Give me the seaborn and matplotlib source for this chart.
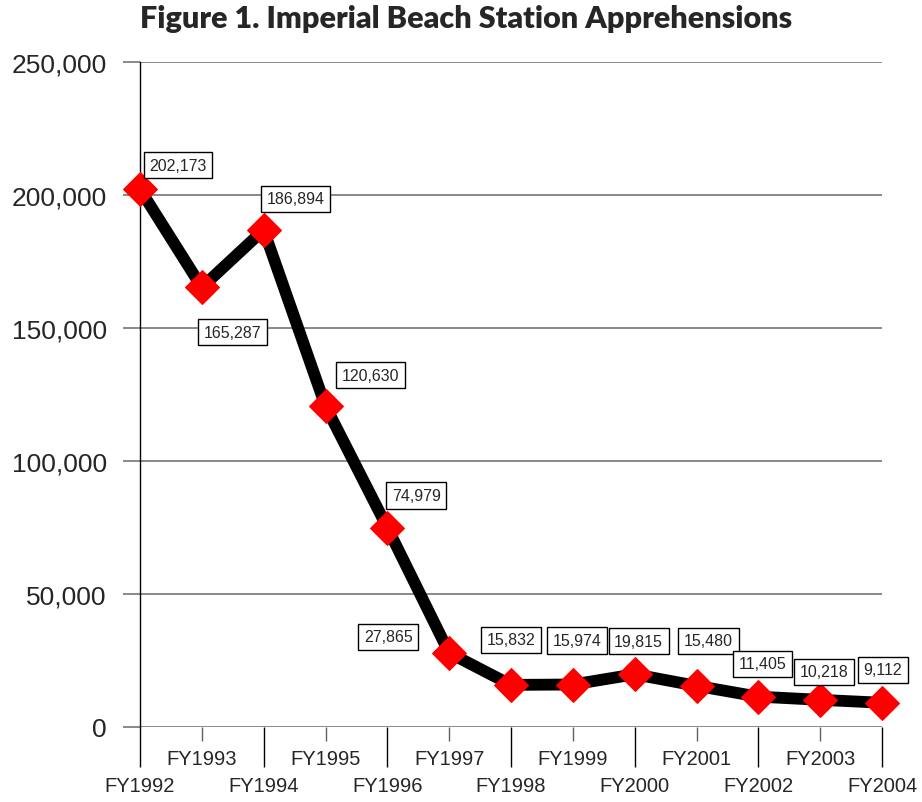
import numpy as np
import matplotlib
matplotlib.use("Agg")
import matplotlib.pyplot as plt
import seaborn as sns
import pandas as pd

years = ["FY1992", "FY1993", "FY1994", "FY1995", "FY1996", "FY1997", "FY1998",
         "FY1999", "FY2000", "FY2001", "FY2002", "FY2003", "FY2004"]
apprehensions = [202173, 165287, 186894, 120630, 74979, 27865, 15832,
                 15974, 19815, 15480, 11405, 10218, 9112]
# label box offsets from each point, in pixels (dx, dy up)
label_offsets = [(38, 24), (31, -45), (32, 31), (45, 31), (29, 32), (-61, 16), (0, 45),
                 (4, 44), (4, 33), (12, 45), (4, 33), (4, 28), (1, 33)]

df = pd.DataFrame({"pos": np.arange(len(years)), "year": years, "count": apprehensions})

sns.set_style("white")
plt.rcParams["font.family"] = ["Liberation Sans", "DejaVu Sans"]

fig = plt.figure(figsize=(9.22, 8.03), dpi=100)
ax = fig.add_axes([140 / 922, 1 - 728 / 803, 742 / 922, 665 / 803])

sns.lineplot(data=df, x="pos", y="count", ax=ax, color="black", linewidth=8.5,
             marker="D", markersize=17, markerfacecolor="red", markeredgecolor="red",
             clip_on=False, zorder=5)

ax.set_xlim(0, 12)
ax.set_ylim(0, 250000)
ax.set_yticks(range(0, 250001, 50000))
ax.yaxis.set_major_formatter(plt.FuncFormatter(lambda v, _: f"{int(v):,}"))
ax.grid(axis="y", color="#808080", linewidth=1.3)
ax.set_axisbelow(True)
ax.tick_params(axis="y", length=12, color="#808080", width=1.3, labelsize=19, pad=12, left=True)

even = list(range(0, 13, 2))
odd = list(range(1, 13, 2))
ax.set_xticks(even)
ax.set_xticklabels([years[i] for i in even])
ax.set_xticks(odd, minor=True)
ax.set_xticklabels([years[i] for i in odd], minor=True)
ax.tick_params(axis="x", which="major", length=29, width=1.0, color="black",
               labelsize=14.5, pad=6, bottom=True)
ax.tick_params(axis="x", which="minor", length=10, width=1.0, color="#606060",
               labelsize=14.5, pad=6, bottom=True)
ax.set_xlabel("")
ax.set_ylabel("")

for s in ["top", "right", "bottom"]:
    ax.spines[s].set_visible(False)
ax.spines["left"].set_color("black")
ax.spines["left"].set_linewidth(1.0)

for i, (val, (dx, dy)) in enumerate(zip(apprehensions, label_offsets)):
    ax.annotate(f"{val:,}", xy=(i, val), xytext=(dx * 0.72, dy * 0.72),
                textcoords="offset points", ha="center", va="center", fontsize=11.5,
                bbox=dict(boxstyle="square,pad=0.35", fc="white", ec="black", lw=1),
                zorder=6, annotation_clip=False)

fig.text(466 / 922, 1 - 19 / 803, "Figure 1. Imperial Beach Station Apprehensions",
         ha="center", va="center", fontsize=22, fontweight="heavy", family="Lato")

plt.savefig("out.png", dpi=100)
